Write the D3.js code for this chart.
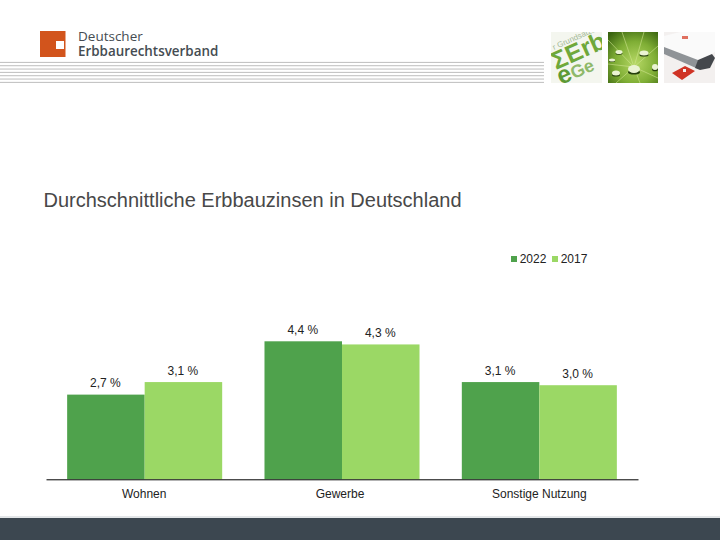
<!DOCTYPE html>
<html><head><meta charset="utf-8">
<script src="https://cdn.jsdelivr.net/npm/d3@7"></script>
<style>html,body{margin:0;padding:0;background:#fff;overflow:hidden}svg{display:block}text{font-family:"Liberation Sans",Arial,sans-serif}</style>
</head><body>
<svg id="c" width="720" height="540"></svg>
<script>
const categories = ["Wohnen","Gewerbe","Sonstige Nutzung"];
const seriesNames = ["2022","2017"];
const values2022 = [2.7,4.4,3.1];
const values2017 = [3.1,4.3,3.0];
const colors = ["#4fa24c","#9bd865"];
const titleText = "Durchschnittliche Erbbauzinsen in Deutschland";
const stripeRows = d3.range(7);

const svg = d3.select("#c");
const fmt = v => v.toFixed(1).replace(".",",") + " %";

// Header stripes
svg.selectAll("line.stripe").data(stripeRows).join("line").attr("class","stripe")
  .attr("x1",0).attr("x2",544).attr("y1",i=>62.4+i*3.33).attr("y2",i=>62.4+i*3.33)
  .attr("stroke","#bdbdbd").attr("stroke-width",1);

// Logo
svg.append("rect").attr("x",40).attr("y",31).attr("width",25.5).attr("height",26).attr("fill","#d2541c");
svg.append("rect").attr("x",56).attr("y",41).attr("width",8).attr("height",8).attr("fill","#fff");
svg.append("text").attr("x",78).attr("y",41).attr("font-size",13.5).attr("fill","#454c52").style("font-family","'Open Sans'").text("Deutscher");
svg.append("text").attr("x",78).attr("y",56).attr("font-size",13.4).attr("font-weight",600).attr("fill","#454c52").style("font-family","'Open Sans'").text("Erbbaurechtsverband");

// Thumbnails
const defs = svg.append("defs");
[["t1",551,32,51,51],["t2",608,32,50,51],["t3",664,32,51,51]].forEach(d=>{
  defs.append("clipPath").attr("id",d[0]).append("rect").attr("x",d[1]).attr("y",d[2]).attr("width",d[3]).attr("height",d[4]);
});
const g1 = svg.append("g").attr("clip-path","url(#t1)");
g1.append("rect").attr("x",551).attr("y",32).attr("width",51).attr("height",51).attr("fill","#f4f6ef");
g1.append("text").attr("transform","translate(556,70) rotate(-24)").attr("font-size",25).attr("font-weight",700).attr("fill","#6fa83a").text("\u03a3Erb");
const eg = g1.append("text").attr("transform","translate(561,85) rotate(-24)").attr("font-weight",700).attr("fill","#5d9a35");
eg.append("tspan").attr("font-size",25).text("e");
eg.append("tspan").attr("font-size",18).attr("fill","#8fb96a").text("Ge");
g1.append("text").attr("transform","translate(554,50) rotate(-24)").attr("font-size",8).attr("fill","#a3b896").text("r Grundsatzbe");

const g2 = svg.append("g").attr("clip-path","url(#t2)");
const rg = defs.append("radialGradient").attr("id","rg").attr("cx","0.55").attr("cy","0.6").attr("r","0.75");
rg.append("stop").attr("offset","0").attr("stop-color","#b5d764");
rg.append("stop").attr("offset","0.55").attr("stop-color","#7fae35");
rg.append("stop").attr("offset","1").attr("stop-color","#3a6410");
g2.append("rect").attr("x",608).attr("y",32).attr("width",50).attr("height",51).attr("fill","url(#rg)");
[[608,40],[622,32],[644,32],[658,46],[658,78],[640,83],[616,83],[608,64]].forEach(p=>g2.append("line").attr("x1",634).attr("y1",67).attr("x2",p[0]).attr("y2",p[1]).attr("stroke","#cfe58f").attr("stroke-width",1).attr("opacity",.6));
[[634,69,6,4],[616,73,4,2.5],[644,53,4.5,2.5],[619,52,3.5,2],[612,60,3,1.5],[655,67,3,3]].forEach(p=>{
  g2.append("ellipse").attr("cx",p[0]).attr("cy",p[1]+p[3]*.8).attr("rx",p[2]).attr("ry",p[3]*.6).attr("fill","#26400c");
  g2.append("ellipse").attr("cx",p[0]).attr("cy",p[1]).attr("rx",p[2]).attr("ry",p[3]).attr("fill","#eaf3d2");
});

const g3 = svg.append("g").attr("clip-path","url(#t3)");
g3.append("rect").attr("x",664).attr("y",32).attr("width",51).attr("height",51).attr("fill","#f3f0ef");
g3.append("path").attr("d","M664 36 L680 32 L715 32 L715 52 L698 62 L664 48Z").attr("fill","#fafafa");
g3.append("path").attr("d","M664 47 L698 60 L702 66 L696 68 L664 54Z").attr("fill","#8f9397");
g3.append("path").attr("d","M698 60 L712 54 L715 58 L710 68 L700 70 L695 68Z").attr("fill","#44474c");
g3.append("path").attr("d","M672 73 L685 66 L695 71 L682 80Z").attr("fill","#cf3325");
g3.append("rect").attr("x",683).attr("y",69).attr("width",3).attr("height",3).attr("fill","#f3f0ef");
g3.append("rect").attr("x",682).attr("y",36).attr("width",6).attr("height",3).attr("fill","#e07060");

// Title
svg.append("text").attr("x",43.5).attr("y",207).attr("font-size",20).attr("fill","#484848").text(titleText);

// Scales
const x = d3.scaleBand().domain(categories).range([46,638]).paddingInner(0.2144).paddingOuter(0.1072);
const xs = d3.scaleBand().domain(seriesNames).range([0,x.bandwidth()]);
const y = d3.scaleLinear().domain([0,4.4]).range([479.3,341.3]);

// Bars
const rows = categories.map((c,i)=>({c,vals:[values2022[i],values2017[i]]}));
const groups = svg.selectAll("g.grp").data(rows).join("g").attr("class","grp").attr("transform",d=>`translate(${x(d.c)},0)`);
groups.selectAll("rect").data(d=>d.vals.map((v,i)=>({v,s:seriesNames[i],i}))).join("rect")
  .attr("x",d=>xs(d.s)).attr("width",xs.bandwidth()).attr("y",d=>y(d.v)).attr("height",d=>y(0)-y(d.v)).attr("fill",d=>colors[d.i]);
groups.selectAll("text").data(d=>d.vals.map((v,i)=>({v,s:seriesNames[i]}))).join("text")
  .attr("x",d=>xs(d.s)+xs.bandwidth()/2-0.5).attr("y",d=>y(d.v)-7.5).attr("text-anchor","middle")
  .attr("font-size",12).attr("fill","#222").text(d=>fmt(d.v));

// Axis
const ax = svg.append("g").attr("transform",`translate(0,${y(0)})`).call(d3.axisBottom(x).tickSize(0).tickPadding(10));
ax.select(".domain").attr("stroke","#000").attr("stroke-width",1);
ax.selectAll("text").attr("font-size",12).attr("fill","#222").style("font-family","'Liberation Sans'")
  .attr("dx",(d,i)=>[-0.5,-2,0][i]);

// Legend
const legendX = [511,552];
seriesNames.forEach((s,i)=>{
  svg.append("rect").attr("x",legendX[i]).attr("y",256).attr("width",6).attr("height",6).attr("fill",colors[i]);
  svg.append("text").attr("x",legendX[i]+8.7).attr("y",263).attr("font-size",12).attr("fill","#222").text(s);
});

// Footer
svg.append("rect").attr("x",0).attr("y",516).attr("width",720).attr("height",2).attr("fill","#e3e6e8");
svg.append("rect").attr("x",0).attr("y",518).attr("width",720).attr("height",22).attr("fill","#3c4750");
</script>
</body></html>
